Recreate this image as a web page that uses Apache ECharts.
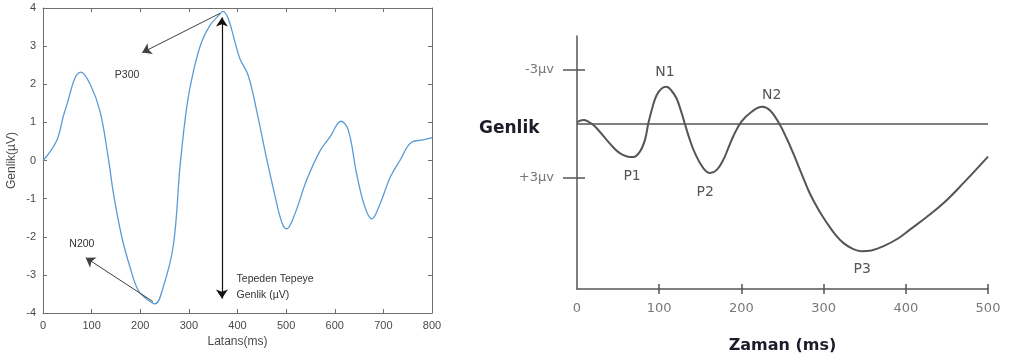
<!DOCTYPE html>
<html>
<head>
<meta charset="utf-8">
<script src="https://cdn.jsdelivr.net/npm/echarts@6/dist/echarts.min.js"></script>
<style>html,body{margin:0;padding:0;background:#fff;}#c{width:1009px;height:363px;}</style>
</head>
<body>
<div id="c"></div>
<script>
// ---- Left chart (P300 ERP) ----
const latencyMs = [0,28,45,78,97,117,134,145,162,179,196,213,230,247,268,282,296,309,326,343,361,370,381,395,405,422,440,460,477,491,501,518,542,570,590,613,628,645,662,676,693,714,734,758,782,800];
const amplitudeUv = [0,0.52,1.3,2.32,2.0,1.3,0.09,-0.87,-2.0,-2.8,-3.41,-3.63,-3.76,-3.33,-2.23,-0.13,1.44,2.32,3.1,3.54,3.8,3.91,3.72,3.1,2.67,2.23,1.27,0.04,-0.92,-1.62,-1.79,-1.4,-0.52,0.26,0.61,1.03,0.79,-0.35,-1.22,-1.53,-1.14,-0.44,0,0.48,0.54,0.6];
const leftXTicks = [0,100,200,300,400,500,600,700,800];
const leftYTicks = [-4,-3,-2,-1,0,1,2,3,4];
// arrows: [fromX, fromY, toX, toY]
const p300Arrow = [364, 3.86, 204, 2.83];
const n200Arrow = [226, -3.7, 88, -2.55];
const peakToPeakArrow = [368, 3.75, 368, -3.62];
const leftLabels = [
  {name:'P300', x:173, y:2.23, align:'center'},
  {name:'N200', x:80, y:-2.18, align:'center'},
  {name:'Tepeden Tepeye', x:397, y:-3.12, align:'left'},
  {name:'Genlik (µV)', x:397, y:-3.52, align:'left'}
];

// ---- Right chart (schematic ERP) ----
const zamanMs = [0,8,14,20,28,36,44,52,60,68.5,76.6,82.7,86.8,92,97,103,109,115,121,126,131,137,143.5,153.6,162,170,178,184,190,200,212.5,225,235,246,255,263,273,283,294,304,314,324,335,346,358,373,390,405,425,446,470,500];
const erpUv = [-0.1,-0.22,-0.12,0.06,0.45,0.89,1.3,1.63,1.8,1.85,1.54,0.89,-0.04,-0.96,-1.61,-1.98,-2.07,-1.85,-1.43,-0.8,-0.04,0.85,1.63,2.46,2.74,2.56,2.0,1.35,0.7,-0.13,-0.68,-0.96,-0.75,-0.02,0.8,1.63,2.75,3.85,4.8,5.52,6.15,6.63,6.95,7.09,7.05,6.81,6.4,5.89,5.2,4.41,3.3,1.82];
const rightXTicks = [100,200,300,400,500];
const rightYTicks = [-3,3];
const rightLabels = [
  {name:'N1', x:107, y:-2.89},
  {name:'P1', x:67, y:2.94},
  {name:'P2', x:156, y:3.83},
  {name:'N2', x:237, y:-1.61},
  {name:'P3', x:347, y:8.11}
];

const leftData = latencyMs.map((x,i)=>[x, amplitudeUv[i]]);
const rightData = zamanMs.map((x,i)=>[x, erpUv[i]]);

const frameColor = '#6e6e6e';
const tickText = '#4a4a4a';
const baseFont = 'Liberation Sans, Arial, sans-serif';
const wideFont = 'DejaVu Sans, sans-serif';

function arrowLine(a, startSym, endSym, color, width){
  return [
    {coord:[a[0],a[1]], symbol:startSym, lineStyle:{color:color,width:width,type:'solid'}},
    {coord:[a[2],a[3]], symbol:endSym}
  ];
}

const chart = echarts.init(document.getElementById('c'), null, {renderer:'canvas'});
const option = {
  animation:false,
  backgroundColor:'#fff',
  textStyle:{fontFamily:baseFont},
  grid:[
    {left:43, top:8, width:389, height:305},
    {left:577, top:36, width:411, height:253}
  ],
  xAxis:[
    {gridIndex:0, type:'value', position:'bottom', min:0, max:800, interval:100,
     axisLine:{show:true, onZero:false, lineStyle:{color:frameColor,width:1}},
     axisTick:{show:true, inside:true, length:4, lineStyle:{color:frameColor}},
     axisLabel:{color:tickText, fontSize:11, margin:7, fontFamily:baseFont},
     splitLine:{show:false},
     name:'Latans(ms)', nameLocation:'middle', nameGap:22,
     nameTextStyle:{color:tickText, fontSize:12, fontFamily:baseFont}},
    {gridIndex:0, type:'value', position:'top', min:0, max:800, interval:100,
     axisLine:{show:true, onZero:false, lineStyle:{color:frameColor,width:1}},
     axisTick:{show:true, inside:true, length:4, lineStyle:{color:frameColor}},
     axisLabel:{show:false}, splitLine:{show:false}},
    {gridIndex:1, type:'value', position:'bottom', min:0, max:500, interval:100,
     axisLine:{show:true, onZero:false, lineStyle:{color:'#555',width:1.5}},
     axisTick:{show:true, inside:false, length:5, customValues:rightXTicks, lineStyle:{color:'#555',width:1.5}},
     axisLabel:{color:'#777', fontSize:13, margin:13, fontFamily:wideFont},
     splitLine:{show:false},
     name:'Zaman (ms)', nameLocation:'middle', nameGap:49,
     nameTextStyle:{color:'#1c1c2a', fontSize:16, fontWeight:'bold', fontFamily:wideFont}},
    {gridIndex:1, type:'value', position:'bottom', min:0, max:500, interval:100,
     axisLine:{show:false, onZero:false},
     axisTick:{show:true, inside:true, length:5, customValues:rightXTicks, lineStyle:{color:'#555',width:1.5}},
     axisLabel:{show:false}, splitLine:{show:false}}
  ],
  yAxis:[
    {gridIndex:0, type:'value', position:'left', min:-4, max:4, interval:1,
     axisLine:{show:true, onZero:false, lineStyle:{color:frameColor,width:1}},
     axisTick:{show:true, inside:true, length:4, lineStyle:{color:frameColor}},
     axisLabel:{color:tickText, fontSize:11, margin:7, fontFamily:baseFont},
     splitLine:{show:false},
     name:'Genlik(µV)', nameLocation:'middle', nameGap:25, nameRotate:90,
     nameTextStyle:{color:tickText, fontSize:12, fontFamily:baseFont}},
    {gridIndex:0, type:'value', position:'right', min:-4, max:4, interval:1,
     axisLine:{show:true, onZero:false, lineStyle:{color:frameColor,width:1}},
     axisTick:{show:true, inside:true, length:4, lineStyle:{color:frameColor}},
     axisLabel:{show:false}, splitLine:{show:false}},
    {gridIndex:1, type:'value', position:'left', min:-4.9, max:9.2, inverse:true,
     axisLine:{show:true, onZero:false, lineStyle:{color:'#555',width:1.5}},
     axisTick:{show:true, inside:false, length:14, customValues:rightYTicks, lineStyle:{color:'#555',width:1.5}},
     axisLabel:{show:true, customValues:rightYTicks, color:'#777', fontSize:13, margin:23, fontFamily:wideFont,
       formatter:function(v){ return (v>0?'+':'')+v+'µv'; }},
     splitLine:{show:false}},
    {gridIndex:1, type:'value', position:'left', min:-4.9, max:9.2, inverse:true,
     axisLine:{show:false, onZero:false},
     axisTick:{show:true, inside:true, length:8, customValues:rightYTicks, lineStyle:{color:'#555',width:1.5}},
     axisLabel:{show:false}, splitLine:{show:false}}
  ],
  graphic:[
    {type:'text', left:479, top:120, style:{text:'Genlik', fill:'#1c1c2a', font:'bold 17px "DejaVu Sans", sans-serif'}}
  ],
  series:[
    {type:'line', xAxisIndex:0, yAxisIndex:0, data:leftData, showSymbol:false, smooth:0.4,
     lineStyle:{color:'#5b9bd5', width:1.3}, z:3,
     markLine:{silent:true, symbolSize:9, label:{show:false},
       data:[
         arrowLine(p300Arrow,'none','arrow','#404040',1),
         arrowLine(n200Arrow,'none','arrow','#404040',1),
         arrowLine(peakToPeakArrow,'arrow','arrow','#111',1.2)
       ]},
     markPoint:{silent:true, symbol:'rect', symbolSize:1, itemStyle:{color:'rgba(0,0,0,0)'},
       data:leftLabels.map(l=>({name:l.name, coord:[l.x,l.y],
         label:{show:true, formatter:l.name, position:l.align==='left'?'right':'inside', distance:0,
           color:'#333', fontSize:10.5, fontFamily:baseFont}}))}
    },
    {type:'line', xAxisIndex:2, yAxisIndex:2, data:rightData, showSymbol:false, smooth:0.4,
     lineStyle:{color:'#555', width:2}, z:3,
     markLine:{silent:true, symbol:'none', label:{show:false},
       lineStyle:{color:'#555', width:1.5, type:'solid'},
       data:[{yAxis:0}]},
     markPoint:{silent:true, symbol:'rect', symbolSize:1, itemStyle:{color:'rgba(0,0,0,0)'},
       data:rightLabels.map(l=>({name:l.name, coord:[l.x,l.y],
         label:{show:true, formatter:l.name, position:'inside', color:'#555', fontSize:14, fontFamily:wideFont}}))}
    }
  ]
};
chart.setOption(option);
</script>
</body>
</html>
